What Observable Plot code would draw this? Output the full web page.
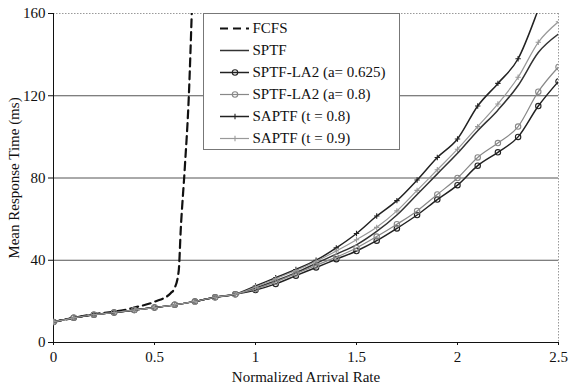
<!DOCTYPE html>
<html>
<head>
<meta charset="utf-8">
<script src="https://cdn.jsdelivr.net/npm/d3@7"></script>
<script src="https://cdn.jsdelivr.net/npm/@observablehq/plot@0.6"></script>
<style>
  body { margin: 0; background: #fff; }
  #wrap { position: relative; width: 569px; height: 383px; font-family: "Liberation Serif", serif; }
  #legend { position: absolute; left: 203px; top: 13px; width: 197px; height: 137px;
            box-sizing: border-box; border: 1px solid #777; background: #fff; }
  #legend svg, #chart svg { display: block; }
</style>
</head>
<body>
<div id="wrap">
  <div id="chart"></div>
  <div id="legend"></div>
</div>
<script>
// Normalized arrival rate (x) shared by the scheduling curves
const rates = [0, 0.1, 0.2, 0.3, 0.4, 0.5, 0.6, 0.7, 0.8, 0.9, 1.0, 1.1, 1.2,
               1.3, 1.4, 1.5, 1.6, 1.7, 1.8, 1.9, 2.0, 2.1, 2.2, 2.3, 2.4, 2.5];

// Mean response time (ms) for each policy
const sptf   = [10, 12, 13.5, 14.6, 15.8, 17, 18.3, 20, 22, 23.5, 26.5, 30, 34, 38.5, 43, 47.5, 54, 62, 72, 82, 92, 103, 113, 125, 141, 150];
const la625  = [10, 12, 13.5, 14.6, 15.8, 17, 18.3, 20, 22, 23.5, 25.5, 28.5, 32.5, 36.5, 40.5, 44.5, 49.5, 55.5, 62, 69.5, 76.5, 86, 92.5, 100, 115, 127];
const la08   = [10, 12, 13.5, 14.6, 15.8, 17, 18.3, 20, 22, 23.5, 26, 29.5, 33.5, 37.5, 41.5, 46, 51.5, 57.5, 64, 72, 80, 90, 97, 105, 122, 134];
const sa08   = [10, 12, 13.5, 14.6, 15.8, 17, 18.3, 20, 22, 23.5, 27.5, 31.5, 35.5, 40, 46, 53, 61.5, 69, 79, 90, 99, 115, 126, 138, 162, 190];
const sa09   = [10, 12, 13.5, 14.6, 15.8, 17, 18.3, 20, 22, 23.5, 27, 31, 35, 39.5, 44.5, 50, 56, 64, 74, 84, 94, 105, 116, 129, 146, 156];

// FCFS saturates early, so it has its own sample points
const fcfsRates = [0, 0.1, 0.2, 0.3, 0.35, 0.4, 0.5, 0.58, 0.6, 0.62, 0.63, 0.65, 0.67, 0.685];
const fcfs      = [10, 12, 13.8, 15, 15.8, 17, 19.8, 24, 26.5, 35, 55, 85, 120, 162];

const yTicks = [0, 40, 80, 120, 160];
const xTicks = [0, 0.5, 1, 1.5, 2, 2.5];
const gridLevels = [40, 80, 120];

// Plus-shaped marker drawn as strokes
const cross = {
  draw(ctx, size) {
    const r = Math.sqrt(size / Math.PI);
    ctx.moveTo(0, -r); ctx.lineTo(0, r);
    ctx.moveTo(-r, 0); ctx.lineTo(r, 0);
  }
};

const series = [
  {name: "FCFS", xs: fcfsRates, ys: fcfs, stroke: "#111", width: 2.2, dash: "8,5", symbol: null},
  {name: "SPTF", xs: rates, ys: sptf, stroke: "#333", width: 1.5, dash: null, symbol: null},
  {name: "SPTF-LA2 (a= 0.625)", xs: rates, ys: la625, stroke: "#222", width: 1.5, dash: null, symbol: "circle"},
  {name: "SPTF-LA2 (a= 0.8)", xs: rates, ys: la08, stroke: "#888", width: 1.2, dash: null, symbol: "circle"},
  {name: "SAPTF (t = 0.8)", xs: rates, ys: sa08, stroke: "#222", width: 1.5, dash: null, symbol: cross},
  {name: "SAPTF (t = 0.9)", xs: rates, ys: sa09, stroke: "#999", width: 1.2, dash: null, symbol: cross}
];

const rows = s => s.xs.map((x, i) => ({x, y: s.ys[i]}));

const marks = [
  Plot.gridY(gridLevels, {stroke: "#555", strokeOpacity: 1, strokeWidth: 1}),
  Plot.ruleY([160], {stroke: "#999", strokeDasharray: "1.5,1.5"}),
  Plot.ruleX([2.5], {stroke: "#999", strokeDasharray: "1.5,1.5"}),
  Plot.axisX({ticks: xTicks, tickSize: 3, tickPadding: 6, tickFormat: d => String(d),
              label: "Normalized Arrival Rate", labelAnchor: "center", labelOffset: 39, labelArrow: "none"}),
  Plot.axisY({ticks: yTicks, tickSize: 5, tickPadding: 3, tickFormat: d => String(d),
              label: "Mean Response Time (ms)", labelAnchor: "center", labelOffset: 45, labelArrow: "none"}),
  Plot.ruleX([0], {stroke: "#111"}),
  Plot.ruleY([0], {stroke: "#111"})
];

for (const s of series) {
  const data = rows(s);
  marks.push(Plot.line(data, {x: "x", y: "y", stroke: s.stroke, strokeWidth: s.width,
                              strokeDasharray: s.dash, curve: "monotone-x", clip: true}));
  if (s.symbol) {
    marks.push(Plot.dot(data, {x: "x", y: "y", symbol: s.symbol, r: 2.7, stroke: s.stroke,
                               strokeWidth: 1.1, fill: "none", clip: true}));
  }
}

const chart = Plot.plot({
  width: 569,
  height: 383,
  marginTop: 13,
  marginRight: 11,
  marginBottom: 41,
  marginLeft: 53,
  style: {fontFamily: "Liberation Serif, serif", fontSize: "15px", color: "#111", background: "#fff"},
  x: {domain: [0, 2.5]},
  y: {domain: [0, 160]},
  marks
});
document.getElementById("chart").append(chart);

// Legend: sample line plus name for every series
const names = series.map(s => s.name);
const legendMarks = [];
for (const s of series) {
  legendMarks.push(Plot.ruleY([s.name], {x1: 0, x2: 1, stroke: s.stroke, strokeWidth: s.width, strokeDasharray: s.dash}));
  if (s.symbol) {
    legendMarks.push(Plot.dot([s.name], {x: 0.5, y: d => d, symbol: s.symbol, r: 2.7, stroke: s.stroke, strokeWidth: 1.1, fill: "none"}));
  }
}
legendMarks.push(Plot.text(names, {x: 1, y: d => d, text: d => d, textAnchor: "start", dx: 3, fill: "#111"}));

const legend = Plot.plot({
  width: 195,
  height: 135,
  marginTop: 12,
  marginBottom: 9,
  marginLeft: 16,
  marginRight: 150,
  style: {fontFamily: "Liberation Serif, serif", fontSize: "15px", background: "#fff", overflow: "visible"},
  x: {domain: [0, 1], axis: null},
  y: {type: "point", domain: names, axis: null, padding: 0},
  marks: legendMarks
});
document.getElementById("legend").append(legend);
</script>
</body>
</html>
